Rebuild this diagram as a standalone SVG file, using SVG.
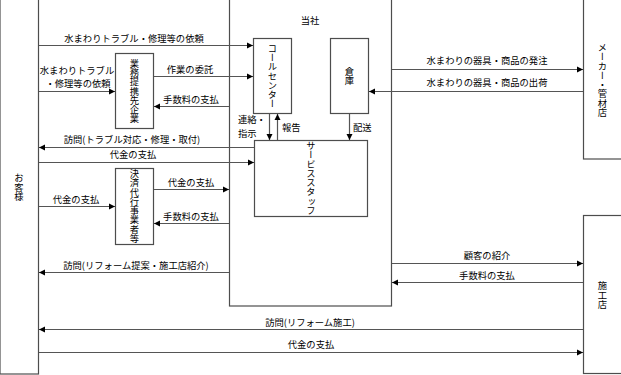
<svg xmlns="http://www.w3.org/2000/svg" width="621" height="375" viewBox="0 0 621 375">
<defs>
<marker id="ah" markerUnits="userSpaceOnUse" markerWidth="7" markerHeight="7" refX="6" refY="3.5" orient="auto">
<path d="M0,0.5 L6,3.5 L0,6.5 z" fill="#000"/>
</marker>
<style>
.box{fill:#fff;stroke:#4d4d4d;stroke-width:1.2}
.arr{stroke:#555;stroke-width:1.2;fill:none;marker-end:url(#ah)}
text{font-family:"Noto Sans CJK JP","Noto Sans CJK SC",sans-serif;font-size:9.3px;fill:#000}
.h{text-anchor:middle;dominant-baseline:central}
.v{writing-mode:vertical-rl;text-anchor:middle}
</style>
</defs>
<rect width="621" height="375" fill="#fff"/>
<g id="customer"><rect class="box" x="0" y="-1" width="38.5" height="375"/><text class="v" x="19" y="187">お客様</text></g>
<g id="company"><rect class="box" x="229.5" y="-1" width="162" height="307"/><text class="h" x="310" y="20">当社</text></g>
<g id="callcenter"><rect class="box" x="253.5" y="38.5" width="38" height="75"/><text class="v" x="272.5" y="76">コールセンター</text></g>
<g id="warehouse"><rect class="box" x="330.5" y="38.5" width="38" height="75"/><text class="v" x="349.5" y="76">倉庫</text></g>
<g id="servicestaff"><rect class="box" x="254.5" y="140.5" width="113" height="76"/><text class="v" x="311" y="178">サービススタッフ</text></g>
<g id="partner"><rect class="box" x="115.5" y="53.5" width="38" height="75"/><text class="v" x="134.5" y="91">業務提携先企業</text></g>
<g id="payment"><rect class="box" x="115.5" y="168.5" width="38" height="76"/><text class="v" x="134.5" y="206">決済代行事業者等</text></g>
<g id="maker"><rect class="box" x="583.5" y="-1" width="40" height="160"/><text class="v" x="602.5" y="80">メーカー・管材店</text></g>
<g id="contractor"><rect class="box" x="583.5" y="215.5" width="40" height="158"/><text class="v" x="602.5" y="295">施工店</text></g>
<g id="connectors">
<line class="arr" x1="39" y1="45.5" x2="253" y2="45.5"/>
<line class="arr" x1="39" y1="91.5" x2="115" y2="91.5"/>
<line class="arr" x1="154" y1="76.5" x2="253" y2="76.5"/>
<line class="arr" x1="229" y1="106.5" x2="154" y2="106.5"/>
<line class="arr" x1="254" y1="147.5" x2="39" y2="147.5"/>
<line class="arr" x1="39" y1="162.5" x2="254" y2="162.5"/>
<line class="arr" x1="154" y1="189.5" x2="229" y2="189.5"/>
<line class="arr" x1="39" y1="206.5" x2="115" y2="206.5"/>
<line class="arr" x1="229" y1="223.5" x2="154" y2="223.5"/>
<line class="arr" x1="229" y1="272.5" x2="39" y2="272.5"/>
<line class="arr" x1="269.5" y1="114" x2="269.5" y2="140"/>
<line class="arr" x1="277.5" y1="140" x2="277.5" y2="114"/>
<line class="arr" x1="349.5" y1="114" x2="349.5" y2="140"/>
<line class="arr" x1="392" y1="69.5" x2="583" y2="69.5"/>
<line class="arr" x1="583" y1="91.5" x2="369" y2="91.5"/>
<line class="arr" x1="392" y1="263.5" x2="583" y2="263.5"/>
<line class="arr" x1="583" y1="282.5" x2="392" y2="282.5"/>
<line class="arr" x1="583" y1="329.5" x2="39" y2="329.5"/>
<line class="arr" x1="39" y1="352.5" x2="583" y2="352.5"/>
</g>
<g id="labels">
<text class="h" x="134" y="37.5">水まわりトラブル・修理等の依頼</text>
<text class="h"><tspan x="77" y="69.5">水まわりトラブル</tspan><tspan x="78" y="83.2">・修理等の依頼</tspan></text>
<text class="h" x="190" y="68.5">作業の委託</text>
<text class="h" x="191" y="98.5">手数料の支払</text>
<text class="h" x="132" y="138.5">訪問(トラブル対応・修理・取付)</text>
<text class="h" x="133" y="153.5">代金の支払</text>
<text class="h" x="191" y="181.5">代金の支払</text>
<text class="h" x="76" y="198.5">代金の支払</text>
<text class="h" x="191" y="215.5">手数料の支払</text>
<text class="h" x="136" y="265">訪問(リフォーム提案・施工店紹介)</text>
<text class="h" x="310" y="321.5">訪問(リフォーム施工)</text>
<text class="h" x="311" y="343.5">代金の支払</text>
<text class="h" x="487" y="255">顧客の紹介</text>
<text class="h" x="487" y="275">手数料の支払</text>
<text class="h" x="487" y="60">水まわりの器具・商品の発注</text>
<text class="h" x="487" y="82">水まわりの器具・商品の出荷</text>
<text dominant-baseline="central"><tspan x="238" y="119.3">連絡・</tspan><tspan x="238" y="133">指示</tspan></text>
<text x="282" y="126.5" dominant-baseline="central">報告</text>
<text x="353" y="126.5" dominant-baseline="central">配送</text>
</g>
</svg>
